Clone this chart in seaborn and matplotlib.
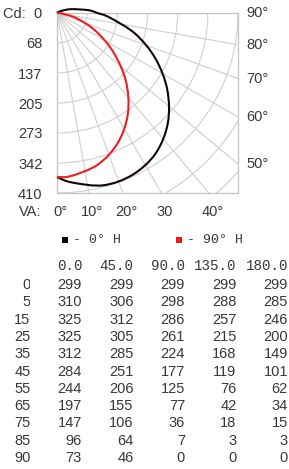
import numpy as np
import pandas as pd
import seaborn as sns
import matplotlib
matplotlib.use("Agg")
from matplotlib import pyplot as plt
from matplotlib.path import Path
from matplotlib.patches import PathPatch, Circle, Rectangle
from matplotlib.colors import ListedColormap

# Photometric table (cd/klm), rows = vertical angles, columns = H planes
va_angles = [0, 5, 15, 25, 35, 45, 55, 65, 75, 85, 90]
h_planes = [0.0, 45.0, 90.0, 135.0, 180.0]
cd_h0 = [299, 310, 325, 325, 312, 284, 244, 197, 147, 96, 73]
cd_h45 = [299, 306, 312, 305, 285, 251, 206, 155, 106, 64, 46]
cd_h90 = [299, 298, 286, 261, 224, 177, 125, 77, 36, 7, 0]
cd_h135 = [299, 288, 257, 215, 168, 119, 76, 42, 18, 3, 0]
cd_h180 = [299, 285, 246, 200, 149, 101, 62, 34, 15, 3, 0]

# chart is drawn in cd, table is per klm
chart_scale = 1.25
# 0° H curve above 90° (chart cd)
va_upper = [95, 105, 115, 125, 135]
chart_cd_h0_upper = [72, 34, 12, 3, 0]

cd_ticks = [0, 68, 137, 205, 273, 342, 410]
cd_tick_labels = ["Cd:  0", "68", "137", "205", "273", "342", "410"]
va_bottom = [0, 10, 20, 30, 40]
va_bottom_labels = ["0°", "10°", "20°", "30", "40°"]
va_right = [50, 60, 70, 80, 90]
va_right_labels = ["50°", "60°", "70°", "80°", "90°"]
legend_labels = ["- 0° H", "- 90° H"]
colors = ["#150505", "#ee1c1c"]

sns.set_style("white")
plt.rcParams["font.family"] = ["Liberation Sans", "DejaVu Sans"]
txt = "#383838"
grid = "#cfcfcf"

W, H = 289, 469
def rect(l, t, r, b):
    return [l / W, 1 - b / H, (r - l) / W, (b - t) / H]

fig = plt.figure(figsize=(W / 100, H / 100), dpi=100)

# ---- polar chart ----
ax = fig.add_axes(rect(57, 13, 238, 193))
cd_max = 410
ax.set_xlim(0, cd_max)
ax.set_ylim(cd_max, 0)
ax.set_xticks([])
ax.set_yticks(cd_ticks)
ax.set_yticklabels(cd_tick_labels, fontsize=10.5, color=txt)
ax.tick_params(axis="y", length=0, pad=10.5)
for s in ax.spines.values():
    s.set_color("#c4c4c4")
    s.set_linewidth(0.9)

# grid: arcs and radial lines
step = cd_max / 6
for k in range(1, 9):
    ax.add_patch(Circle((0, 0), k * step, fill=False, ec=grid, lw=0.8))
for a in range(0, 91, 10):
    t = np.radians(a)
    ax.plot([0, 1000 * np.sin(t)], [0, 1000 * np.cos(t)], color=grid, lw=0.8)

def smooth_path(xs, ys):
    pts = np.column_stack([xs, ys])
    verts = [pts[0]]
    codes = [Path.MOVETO]
    n = len(pts)
    for i in range(n - 1):
        p0 = pts[max(i - 1, 0)]
        p1 = pts[i]
        p2 = pts[i + 1]
        p3 = pts[min(i + 2, n - 1)]
        verts += [p1 + (p2 - p0) / 6, p2 - (p3 - p1) / 6, p2]
        codes += [Path.CURVE4] * 3
    return Path(verts, codes)

def add_curve(angles, cds, color):
    t = np.radians(angles)
    r = np.asarray(cds, dtype=float)
    p = smooth_path(r * np.sin(t), r * np.cos(t))
    ax.add_patch(PathPatch(p, fill=False, ec=color, lw=1.5, clip_on=False, zorder=3))

add_curve(va_angles + va_upper, list(np.array(cd_h0) * chart_scale) + chart_cd_h0_upper, colors[0])
add_curve(va_angles, np.array(cd_h90) * chart_scale, colors[1])

for a, lab in zip(va_right, va_right_labels):
    y = cd_max / np.tan(np.radians(a)) if a < 90 else 0
    ax.annotate(lab, xy=(cd_max, y), xytext=(6, 0), textcoords="offset points",
                ha="left", va="center", fontsize=10.5, color=txt, annotation_clip=False)
for a, lab in zip(va_bottom, va_bottom_labels):
    x = cd_max * np.tan(np.radians(a))
    ax.annotate(lab, xy=(x, cd_max), xytext=(2.5, -14), textcoords="offset points",
                ha="center", va="center", fontsize=10.5, color=txt, annotation_clip=False)
ax.annotate("VA:", xy=(0, cd_max), xytext=(-11, -14), textcoords="offset points",
            ha="right", va="center", fontsize=10.5, color=txt, annotation_clip=False)

# ---- legend ----
for x0, col, lab in zip([62, 176], colors, legend_labels):
    fig.add_artist(Rectangle((x0 / W, 1 - 243 / H), 6 / W, 6 / H, transform=fig.transFigure,
                             color=col, lw=0))
    fig.text((x0 + 11) / W, 1 - 240 / H, lab, family="Liberation Mono", fontsize=9.5,
             color=txt, ha="left", va="center")

# ---- table ----
col_right = [82.5, 133.5, 185, 236.5, 288]
for xr, h in zip(col_right, h_planes):
    fig.text(xr / W, 1 - 266 / H, f"{h:.1f}", family="Liberation Mono", fontsize=10.2,
             color=txt, ha="right", va="center")

table = pd.DataFrame({h: v for h, v in zip(h_planes, [cd_h0, cd_h45, cd_h90, cd_h135, cd_h180])},
                     index=va_angles)
ax2 = fig.add_axes(rect(30.5, 276.3, 288, 466.7))
sns.heatmap(table, ax=ax2, annot=True, fmt="d", cbar=False, cmap=ListedColormap(["white"]),
            xticklabels=False, yticklabels=va_angles,
            annot_kws={"color": txt, "ha": "right", "fontsize": 10.5})
for t in ax2.texts:
    x, y = t.get_position()
    t.set_position((x + 0.5, y))
ax2.tick_params(axis="y", length=0, pad=0, labelsize=10.5, labelcolor=txt, rotation=0)
ax2.tick_params(axis="x", length=0)

fig.savefig("out.png", dpi=100)
